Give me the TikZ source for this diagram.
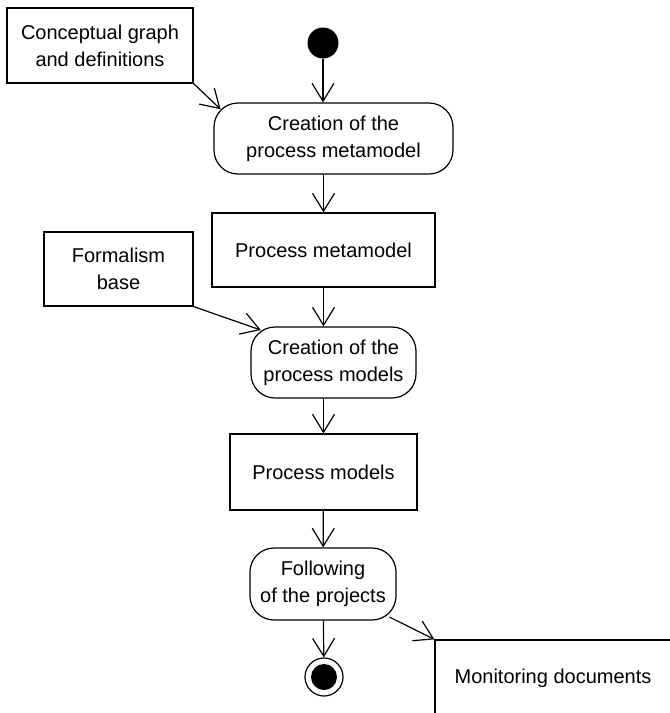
\documentclass[tikz,border=0pt]{standalone}
\usepackage{fontspec}
\setmainfont{Liberation Sans}
\usetikzlibrary{arrows.meta, positioning}

\begin{document}
\begin{tikzpicture}[x=1pt, y=-1pt, line width=1.2pt,
    font=\fontsize{20}{27}\selectfont,
    box/.style={draw, rectangle, align=center, inner sep=0pt},
    act/.style={draw, rectangle, rounded corners=24pt, align=center, inner sep=0pt},
    arr/.style={-{Straight Barb[length=18pt, width=22pt]}}]

            % Khung hình
            \useasboundingbox (0,0) rectangle (670,713);

            % Vẽ điểm bắt đầu
            \node[circle, fill=black, minimum size=31pt, inner sep=0pt] (start) at (323,43) {};

            % Vẽ các hộp bên trái
            \node[box, minimum width=186pt, minimum height=75pt] (concept) at (100,45.5) {Conceptual graph\\and definitions};
            \node[box, minimum width=149pt, minimum height=74pt] (formal) at (118.5,269) {Formalism\\base};

            % Vẽ các bước chính
            \node[act, minimum width=239pt, minimum height=71pt] (create1) at (333.5,138.5) {Creation of the\\process metamodel};
            \node[box, minimum width=223pt, minimum height=74pt] (pmeta) at (323.5,250) {Process metamodel};
            \node[act, minimum width=165pt, minimum height=71pt] (create2) at (333.5,362.5) {Creation of the\\process models};
            \node[box, minimum width=187pt, minimum height=76pt] (pmodels) at (323.5,472) {Process models};
            \node[act, minimum width=146pt, minimum height=72pt] (follow) at (323,584) {Following\\of the projects};

            % Vẽ điểm kết thúc
            \node[circle, draw, minimum size=38pt, inner sep=0pt] (end) at (324,677) {};
            \fill (end) circle (13pt);

            % Vẽ hộp tài liệu
            \node[box, minimum width=236pt, minimum height=76pt] (monitor) at (553,678) {Monitoring documents};

            % Vẽ các mũi tên
            \draw[arr] (start) -- (start |- create1.north);
            \draw[arr, shorten >=-10pt] (concept.south east) -- (create1.north west);
            \draw[arr] (create1.south -| pmeta) -- (pmeta.north);
            \draw[arr] (pmeta) -- (pmeta |- create2.north);
            \draw[arr, shorten >=-11pt] (formal.south east) -- (create2.north west);
            \draw[arr] (create2.south -| pmodels) -- (pmodels.north);
            \draw[arr] (pmodels) -- (follow);
            \draw[arr] (follow) -- (end);
            \draw[arr, shorten <=-8pt] (follow.south east) -- (monitor.north west);

\end{tikzpicture}
\end{document}
